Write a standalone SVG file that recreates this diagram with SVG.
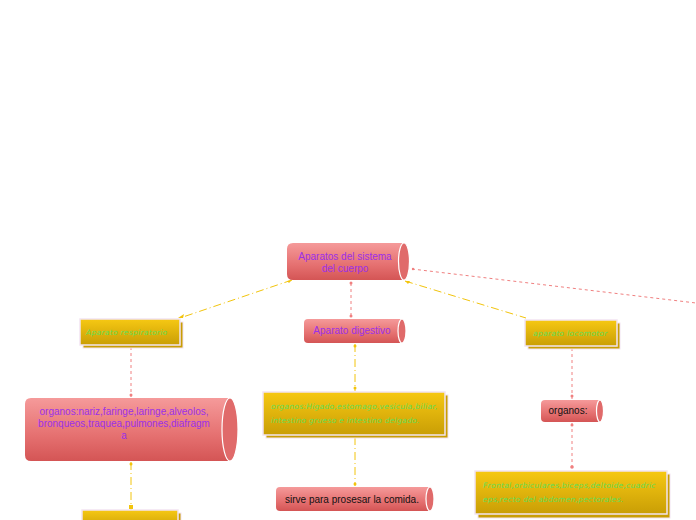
<svg xmlns="http://www.w3.org/2000/svg" width="696" height="520" viewBox="0 0 696 520">
<defs>
<linearGradient id="cyl" x1="0" y1="0" x2="0" y2="1">
<stop offset="0" stop-color="#f59a9a"/>
<stop offset="0.6" stop-color="#e57070"/>
<stop offset="1" stop-color="#d45555"/>
</linearGradient>
<linearGradient id="yel" x1="0" y1="0" x2="0" y2="1">
<stop offset="0" stop-color="#f6c813"/>
<stop offset="1" stop-color="#c99e05"/>
</linearGradient>
</defs>
<style>
.cyl{fill:url(#cyl);}
.cap{fill:#e06a6a;stroke:#ffffff;stroke-width:1.2;}
.box{fill:url(#yel);stroke:#f2e4f2;stroke-width:1.5;}
.sh{fill:#c99e05;stroke:#f2e4f2;stroke-width:1;}
.pt{font-family:"Liberation Sans",Arial,sans-serif;font-size:10px;fill:#9b30e8;text-anchor:middle;}
.bt{font-family:"Liberation Sans",Arial,sans-serif;font-size:10px;fill:#111111;text-anchor:middle;}
.gt{font-family:"DejaVu Sans",sans-serif;font-style:italic;font-size:7.5px;fill:#66dd55;text-anchor:start;letter-spacing:0.3px;}
.rl{fill:none;stroke:#f08080;stroke-width:1;stroke-dasharray:3,3;}
.yl{fill:none;stroke:#f2c40c;stroke-width:1;stroke-dasharray:8,3,1,3;}
.rd{fill:#f08080;}
.yd{fill:#f2c40c;}
</style>
<g id="connectors">
<path class="yl" d="M292 280 L180 318"/>
<path class="yd" d="M178 318 l6 -4 l-1 4 z"/>
<path class="yd" d="M292 280 l-5 1 l2 2 z"/>
<path class="rl" d="M351 283 L351 318"/>
<circle class="rd" cx="351" cy="283" r="1.5"/>
<circle class="rd" cx="351" cy="316" r="1.5"/>
<path class="yl" d="M405 281 L526 318"/>
<path class="yd" d="M405 281 l5 0 l-2 3 z"/>
<path class="rl" d="M412 269 L696 303"/>
<circle class="rd" cx="413" cy="269" r="1.2"/>
<path class="rl" d="M131 347 L131 397"/>
<circle class="rd" cx="131" cy="395" r="1.5"/>
<path class="yl" d="M131 462 L131 510"/>
<circle class="yd" cx="131" cy="464" r="1.5"/>
<rect class="yd" x="129" y="505" width="4" height="4"/>
<path class="yl" d="M355 344 L355 391"/>
<circle class="yd" cx="355" cy="346" r="1.5"/>
<circle class="yd" cx="355" cy="388" r="1.5"/>
<path class="yl" d="M355 437 L355 486"/>
<circle class="yd" cx="355" cy="484" r="1.5"/>
<path class="rl" d="M572 348 L572 399"/>
<circle class="rd" cx="572" cy="396" r="1.5"/>
<path class="rl" d="M572 423 L572 470"/>
<circle class="rd" cx="572" cy="425" r="1.5"/>
<circle class="rd" cx="572" cy="467" r="1.8"/>
</g>
<g id="n-root">
<path class="cyl" d="M293 243 H404 V280 H293 Q287 280 287 274 V249 Q287 243 293 243 Z"/>
<ellipse class="cap" cx="404" cy="261.5" rx="5.5" ry="18.5"/>
<text class="pt" x="345" y="260">Aparatos del sistema</text>
<text class="pt" x="345" y="272">del cuerpo</text>
</g>
<g id="n-resp">
<rect class="sh" x="83" y="322" width="100" height="26"/>
<rect class="box" x="80" y="319" width="100" height="26"/>
<text class="gt" x="86" y="335">Aparato respiratorio</text>
</g>
<g id="n-dig">
<path class="cyl" d="M308 319 H402 V343 H308 Q304 343 304 339 V323 Q304 319 308 319 Z"/>
<ellipse class="cap" cx="402" cy="331" rx="4" ry="12"/>
<text class="pt" x="352" y="334">Aparato digestivo</text>
</g>
<g id="n-loc">
<rect class="sh" x="528" y="323" width="92" height="26"/>
<rect class="box" x="525" y="320" width="92" height="26"/>
<text class="gt" x="533" y="336">aparato locomotor</text>
</g>
<g id="n-resp-org">
<path class="cyl" d="M31 398 H230 V461 H31 Q25 461 25 455 V404 Q25 398 31 398 Z"/>
<ellipse class="cap" cx="230" cy="429.5" rx="8" ry="31.5"/>
<text class="pt" x="124" y="415">organos:nariz,faringe,laringe,alveolos,</text>
<text class="pt" x="124" y="427">bronqueos,traquea,pulmones,diafragm</text>
<text class="pt" x="124" y="439">a</text>
</g>
<g id="n-dig-org">
<rect class="sh" x="266" y="395" width="182" height="43"/>
<rect class="box" x="263" y="392" width="182" height="43"/>
<text class="gt" x="271" y="409">organos:Higado,estomago,vesicula,biliar,</text>
<text class="gt" x="271" y="423">intestino grueso e intestino delgado.</text>
</g>
<g id="n-loc-org">
<path class="cyl" d="M545 400 H600 V422 H545 Q541 422 541 418 V404 Q541 400 545 400 Z"/>
<ellipse class="cap" cx="600" cy="411" rx="3.5" ry="11"/>
<text class="bt" x="568" y="414">organos:</text>
</g>
<g id="n-dig-fn">
<path class="cyl" d="M280 487 H430 V511 H280 Q276 511 276 507 V491 Q276 487 280 487 Z"/>
<ellipse class="cap" cx="430" cy="499" rx="4" ry="12"/>
<text class="bt" x="352" y="503">sirve para prosesar la comida.</text>
</g>
<g id="n-loc-list">
<rect class="sh" x="478" y="474" width="192" height="44"/>
<rect class="box" x="475" y="471" width="192" height="43"/>
<text class="gt" x="483" y="488">Frontal,orbiculares,biceps,deltoide,cuadric</text>
<text class="gt" x="483" y="502">eps,recto del abdomen,pectorales.</text>
</g>
<g id="n-resp-next">
<rect class="sh" x="85" y="513" width="96" height="20"/>
<rect class="box" x="82" y="510" width="96" height="20"/>
</g>
</svg>
